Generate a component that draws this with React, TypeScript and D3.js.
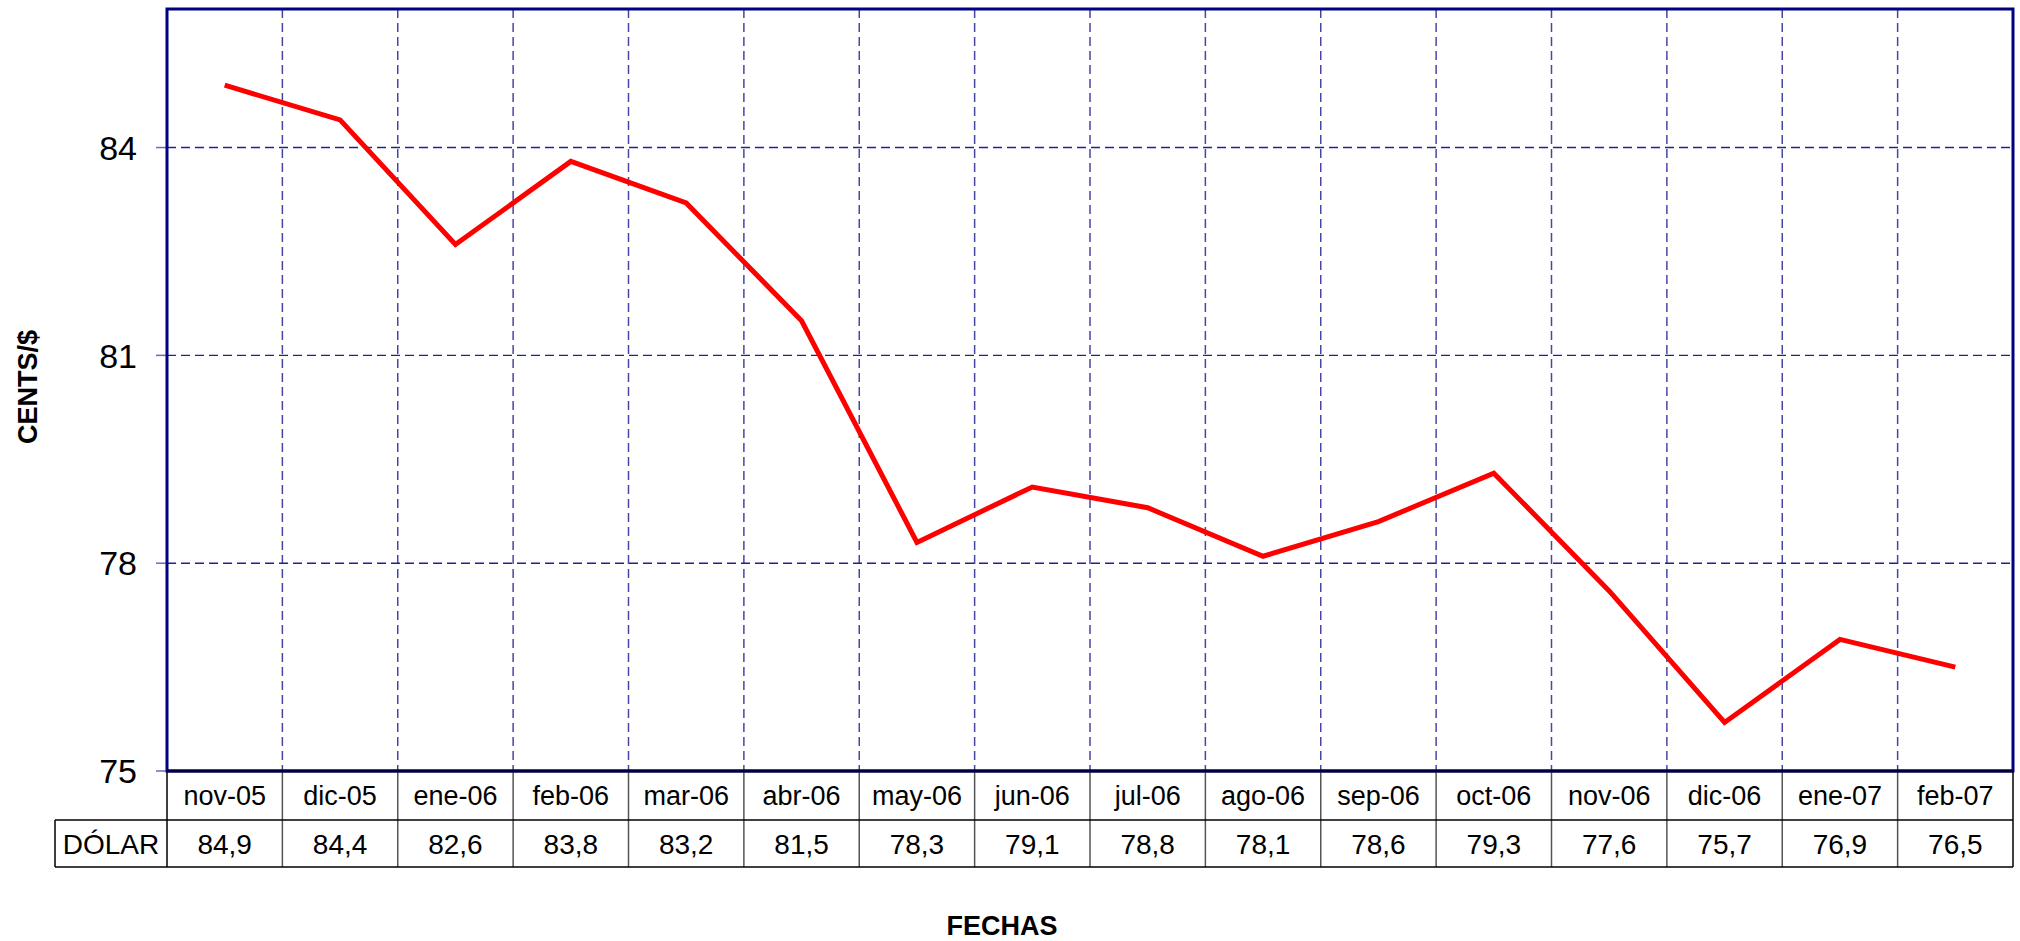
import React from "react";
import * as d3 from "d3";

const categories = ["nov-05","dic-05","ene-06","feb-06","mar-06","abr-06","may-06","jun-06","jul-06","ago-06","sep-06","oct-06","nov-06","dic-06","ene-07","feb-07"];
const values = [84.9,84.4,82.6,83.8,83.2,81.5,78.3,79.1,78.8,78.1,78.6,79.3,77.6,75.7,76.9,76.5];
const yTicks = [75,78,81,84];
const seriesName = "DÓLAR";
const yTitle = "CENTS/$";
const xTitle = "FECHAS";

export default function App() {
  const W = 2020, H = 941;
  const left = 167, right = 2013, top = 9, bottom = 771;
  const row1 = 820, row2 = 867;
  const labelLeft = 55;
  const x = d3.scaleBand<string>().domain(categories).range([left, right]);
  const y = d3.scaleLinear().domain([75, 86]).range([bottom, top]);
  const line = d3.line<number>()
    .x((_, i) => (x(categories[i]) as number) + x.bandwidth() / 2)
    .y((d) => y(d));
  const font = "Arial, 'Liberation Sans', sans-serif";
  const bounds = categories.map((c) => x(c) as number).concat([right]);
  return (
    <svg width={W} height={H} style={{ position: "absolute", left: 0, top: 0, background: "#fff" }} fontFamily={font}>
      {/* vertical grid */}
      {bounds.slice(1, -1).map((bx, i) => (
        <line key={"vg" + i} x1={bx} x2={bx} y1={top} y2={bottom} stroke="#4646a8" strokeWidth={1.5} strokeDasharray="9,5" />
      ))}
      {/* horizontal grid */}
      {yTicks.filter((t) => t !== 75).map((t) => (
        <line key={"hg" + t} x1={left} x2={right} y1={y(t)} y2={y(t)} stroke="#20209a" strokeWidth={1.4} strokeDasharray="9,5" />
      ))}
      {/* ticks */}
      {yTicks.map((t) => (
        <g key={"yt" + t}>
          <line x1={156} x2={left} y1={y(t)} y2={y(t)} stroke="#6a6abc" strokeWidth={1.5} />
          <text x={137} y={y(t)} dy="0.36em" textAnchor="end" fontSize={34} fill="#000">{t}</text>
        </g>
      ))}
      {/* data line */}
      <path d={line(values) as string} fill="none" stroke="#ff0000" strokeWidth={5} strokeLinejoin="miter" />
      {/* plot border */}
      <rect x={left} y={top} width={right - left} height={bottom - top} fill="none" stroke="#000080" strokeWidth={3} />
      {/* table */}
      {bounds.map((bx, i) => (
        <line key={"tb" + i} x1={bx} x2={bx} y1={bottom} y2={row2} stroke={i === 0 || i === bounds.length - 1 ? "#000" : "#555"} strokeWidth={1.5} />
      ))}
      <line x1={labelLeft} x2={right} y1={row1} y2={row1} stroke="#000" strokeWidth={1.5} />
      <line x1={labelLeft} x2={right} y1={row2} y2={row2} stroke="#000" strokeWidth={1.5} />
      <line x1={labelLeft} x2={labelLeft} y1={row1} y2={row2} stroke="#000" strokeWidth={1.5} />
      <line x1={left} x2={right} y1={bottom} y2={bottom} stroke="#00003a" strokeWidth={3} />
      {categories.map((c, i) => (
        <g key={"tc" + i}>
          <text x={(x(c) as number) + x.bandwidth() / 2} y={(bottom + row1) / 2} dy="0.35em" textAnchor="middle" fontSize={27}>{c}</text>
          <text x={(x(c) as number) + x.bandwidth() / 2} y={(row1 + row2) / 2} dy="0.37em" textAnchor="middle" fontSize={28}>{values[i].toFixed(1).replace(".", ",")}</text>
        </g>
      ))}
      <text x={(labelLeft + left) / 2} y={(row1 + row2) / 2} dy="0.37em" textAnchor="middle" fontSize={28}>{seriesName}</text>
      {/* titles */}
      <text transform={`translate(37,${387}) rotate(-90)`} textAnchor="middle" fontSize={27} fontWeight="bold">{yTitle}</text>
      <text x={1002} y={935} textAnchor="middle" fontSize={27} fontWeight="bold">{xTitle}</text>
    </svg>
  );
}
